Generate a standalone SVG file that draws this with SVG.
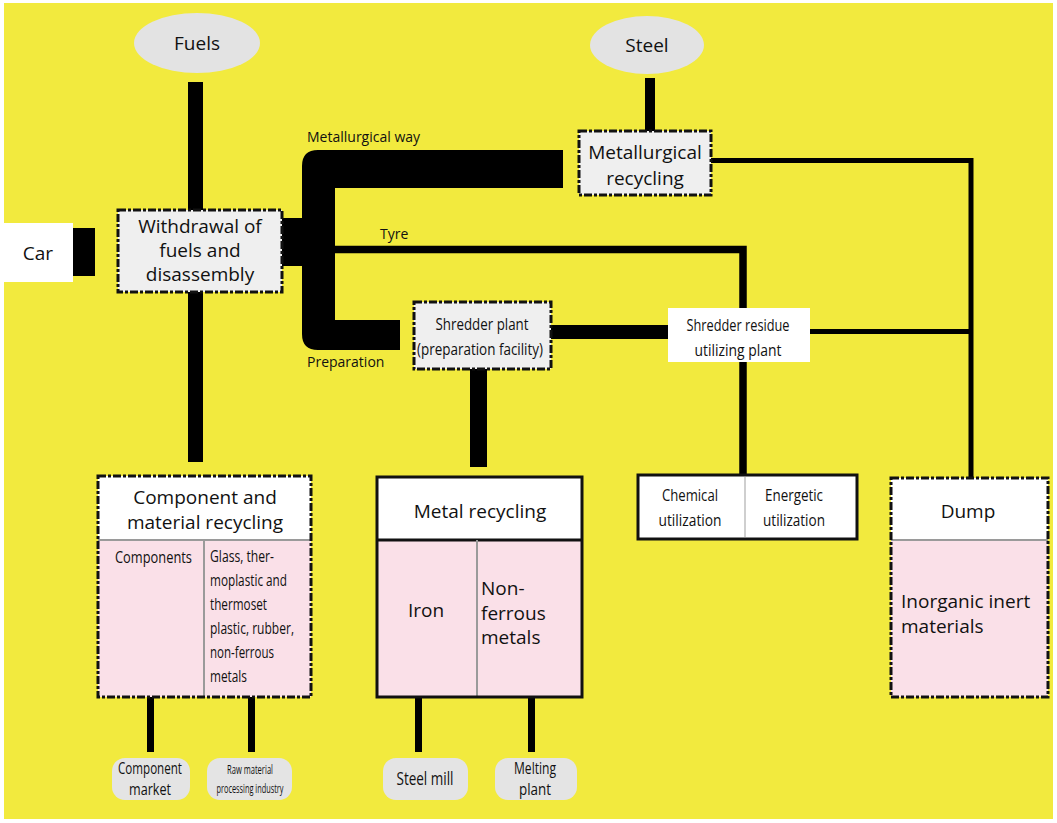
<svg xmlns="http://www.w3.org/2000/svg" width="1057" height="823" viewBox="0 0 1057 823">
<style>
text{font-family:"Open Sans","Noto Sans","Liberation Sans",sans-serif;fill:#111;text-anchor:middle}
.big{font-size:19px}
.lbl{font-size:14px;text-anchor:start}
.cnd{font-size:16.5px}
.cl{font-size:16.5px;text-anchor:start}
.dd{stroke:#111;stroke-width:3;stroke-dasharray:8 2 3 2}
.solid{stroke:#111;stroke-width:3}
.div{stroke:#9a9a9a;stroke-width:2}
.pink{fill:#fae0e8}
.ln{stroke:#000;fill:none}
</style>
<rect x="0" y="0" width="1057" height="823" fill="#fff"/>
<rect x="4" y="3" width="1049" height="816" fill="#f2ea3e"/>

<g id="connectors">
  <rect x="188" y="82" width="15" height="380" fill="#000"/>
  <rect x="645" y="78" width="10" height="54" fill="#000"/>
  <rect x="73" y="228" width="22" height="48" fill="#000"/>
  <rect x="280" y="218" width="24" height="48" fill="#000"/>
  <path d="M563 150 H318 Q302 150 302 166 V334 Q302 350 318 350 H400 V320 H335 V188 H563 Z" fill="#000"/>
  <path class="ln" d="M334 249.5 H743 V474" stroke-width="7.5"/>
  <path class="ln" d="M711 160.5 H971 V478" stroke-width="5"/>
  <path class="ln" d="M809 331.5 H971" stroke-width="5"/>
  <rect x="551" y="325" width="117" height="14" fill="#000"/>
  <rect x="470" y="369" width="17" height="98" fill="#000"/>
  <path class="ln" d="M150.5 697 V752 M251.5 697 V752 M418.5 697 V752 M531.5 697 V752" stroke-width="7"/>
</g>

<g id="fuels">
  <ellipse cx="197" cy="43" rx="63" ry="30" fill="#e3e3e3"/>
  <text class="big" x="197" y="50">Fuels</text>
</g>
<g id="steel">
  <ellipse cx="647" cy="45" rx="57" ry="29" fill="#e3e3e3"/>
  <text class="big" x="647" y="52">Steel</text>
</g>
<g id="car">
  <rect x="4" y="223" width="69" height="59" fill="#fff"/>
  <text class="big" x="38" y="260">Car</text>
</g>
<g id="withdrawal">
  <rect x="118" y="210" width="164" height="82" fill="#efefef" class="dd"/>
  <text class="big" x="200" y="233">Withdrawal of</text>
  <text class="big" x="200" y="257">fuels and</text>
  <text class="big" x="200" y="281">disassembly</text>
</g>
<g id="labels">
  <text class="lbl" x="307" y="142">Metallurgical way</text>
  <text class="lbl" x="380" y="239">Tyre</text>
  <text class="lbl" x="307" y="367">Preparation</text>
</g>
<g id="metallurgical">
  <rect x="579" y="131" width="132" height="64" fill="#efefef" class="dd"/>
  <text class="big" x="645" y="159">Metallurgical</text>
  <text class="big" x="645" y="185">recycling</text>
</g>
<g id="shredder">
  <rect x="414" y="302" width="137" height="67" fill="#efefef" class="dd"/>
  <text class="cnd" x="482" y="330" textLength="93" lengthAdjust="spacingAndGlyphs">Shredder plant</text>
  <text class="cnd" x="480" y="355" textLength="126" lengthAdjust="spacingAndGlyphs">(preparation facility)</text>
</g>
<g id="residue">
  <rect x="668" y="308" width="142" height="54" fill="#fff"/>
  <text class="cnd" x="738" y="331" textLength="103" lengthAdjust="spacingAndGlyphs">Shredder residue</text>
  <text class="cnd" x="738" y="356" textLength="87" lengthAdjust="spacingAndGlyphs">utilizing plant</text>
</g>
<g id="component">
  <rect x="98" y="476" width="213" height="221" fill="#fff" stroke="none"/>
  <rect x="98" y="540" width="213" height="157" class="pink"/>
  <line x1="98" y1="540" x2="311" y2="540" class="div"/>
  <line x1="204" y1="540" x2="204" y2="697" class="div"/>
  <rect x="98" y="476" width="213" height="221" fill="none" class="dd"/>
  <text class="big" x="205" y="504">Component and</text>
  <text class="big" x="205" y="529">material recycling</text>
  <text class="cnd" x="153.5" y="563" textLength="77" lengthAdjust="spacingAndGlyphs">Components</text>
  <text class="cl" x="210" y="562" textLength="64" lengthAdjust="spacingAndGlyphs">Glass, ther-</text>
  <text class="cl" x="210" y="586" textLength="77" lengthAdjust="spacingAndGlyphs">moplastic and</text>
  <text class="cl" x="210" y="610" textLength="57" lengthAdjust="spacingAndGlyphs">thermoset</text>
  <text class="cl" x="210" y="634" textLength="84" lengthAdjust="spacingAndGlyphs">plastic, rubber,</text>
  <text class="cl" x="210" y="658" textLength="64" lengthAdjust="spacingAndGlyphs">non-ferrous</text>
  <text class="cl" x="210" y="682" textLength="37" lengthAdjust="spacingAndGlyphs">metals</text>
</g>
<g id="metal">
  <rect x="377" y="477" width="205" height="220" fill="#fff"/>
  <rect x="377" y="540" width="205" height="157" class="pink"/>
  <line x1="377" y1="540" x2="582" y2="540" class="solid" stroke-width="2"/>
  <line x1="477" y1="540" x2="477" y2="697" class="div"/>
  <rect x="377" y="477" width="205" height="220" fill="none" class="solid"/>
  <text class="big" x="480" y="518">Metal recycling</text>
  <text class="big" x="426" y="617">Iron</text>
  <text class="big" x="481" y="595" style="text-anchor:start">Non-</text>
  <text class="big" x="481" y="620" style="text-anchor:start">ferrous</text>
  <text class="big" x="481" y="644" style="text-anchor:start">metals</text>
</g>
<g id="utilization">
  <rect x="638" y="475" width="219" height="64" fill="#fff" class="solid"/>
  <line x1="745" y1="477" x2="745" y2="537" stroke="#cfcfcf" stroke-width="2"/>
  <text class="cnd" x="690" y="501" textLength="56" lengthAdjust="spacingAndGlyphs">Chemical</text>
  <text class="cnd" x="690" y="526" textLength="63" lengthAdjust="spacingAndGlyphs">utilization</text>
  <text class="cnd" x="794" y="501" textLength="58" lengthAdjust="spacingAndGlyphs">Energetic</text>
  <text class="cnd" x="794" y="526" textLength="62" lengthAdjust="spacingAndGlyphs">utilization</text>
</g>
<g id="dump">
  <rect x="891" y="478" width="157" height="219" fill="#fff"/>
  <rect x="891" y="540" width="157" height="157" class="pink"/>
  <line x1="891" y1="540" x2="1048" y2="540" class="div"/>
  <rect x="891" y="478" width="157" height="219" fill="none" class="dd"/>
  <text class="big" x="968" y="518">Dump</text>
  <text class="big" x="901" y="608" style="text-anchor:start">Inorganic inert</text>
  <text class="big" x="901" y="633" style="text-anchor:start">materials</text>
</g>
<g id="component-market">
  <rect x="112" y="758" width="78" height="42" rx="13" fill="#e4e4e4"/>
  <text class="cnd" x="150" y="774" textLength="64" lengthAdjust="spacingAndGlyphs">Component</text>
  <text class="cnd" x="150" y="795" textLength="42" lengthAdjust="spacingAndGlyphs">market</text>
</g>
<g id="raw-material">
  <rect x="207" y="758" width="85" height="42" rx="13" fill="#e4e4e4"/>
  <text x="250" y="774" style="font-size:12px" textLength="46" lengthAdjust="spacingAndGlyphs">Raw material</text>
  <text x="250" y="793" style="font-size:12px" textLength="67" lengthAdjust="spacingAndGlyphs">processing industry</text>
</g>
<g id="steel-mill">
  <rect x="383" y="758" width="85" height="42" rx="13" fill="#e4e4e4"/>
  <text x="425" y="785" style="font-size:17.5px" textLength="57" lengthAdjust="spacingAndGlyphs">Steel mill</text>
</g>
<g id="melting-plant">
  <rect x="495" y="758" width="82" height="42" rx="13" fill="#e4e4e4"/>
  <text class="cnd" x="535" y="774" textLength="42" lengthAdjust="spacingAndGlyphs">Melting</text>
  <text class="cnd" x="535" y="795" textLength="32" lengthAdjust="spacingAndGlyphs">plant</text>
</g>
</svg>
